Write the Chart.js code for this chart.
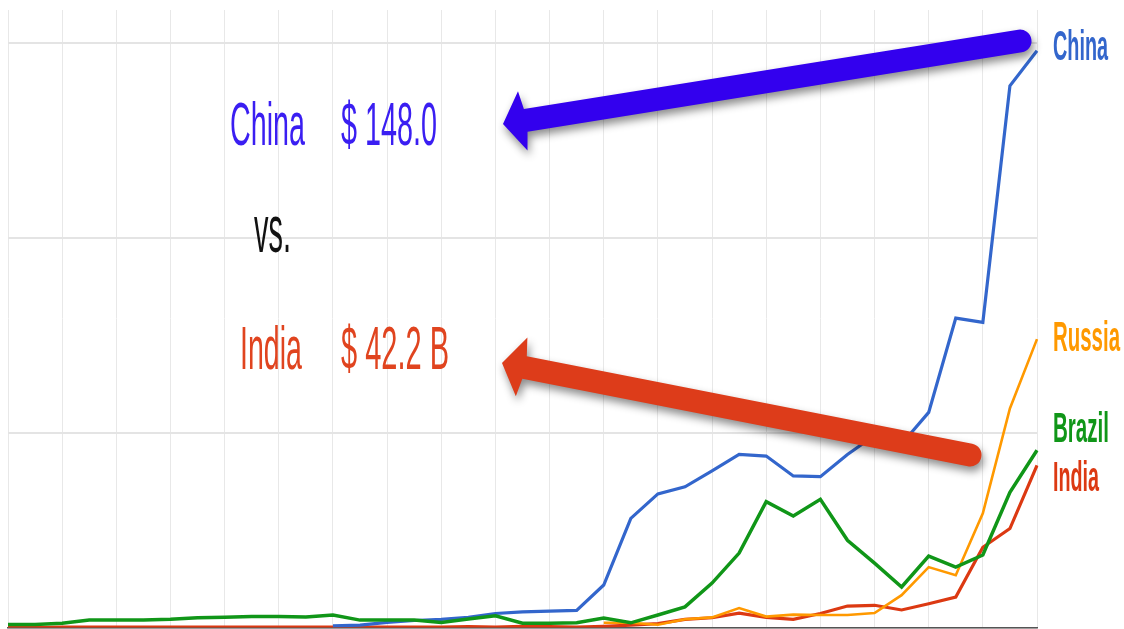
<!DOCTYPE html>
<html>
<head>
<meta charset="utf-8">
<script src="https://cdn.jsdelivr.net/npm/chart.js@4.4.1/dist/chart.umd.min.js"></script>
<style>
  html, body { margin: 0; padding: 0; background: #fff; }
  #wrap { width: 1124px; height: 629px; position: relative; }
</style>
</head>
<body>
<div id="wrap"><canvas id="graph"></canvas></div>
<script>
// FDI net inflows, billions of US$
const years = [];
for (let y = 1970; y <= 2008; y++) years.push(String(y));

const china = [null, null, null, null, null, null, null, null, null, null, null, null,
  0.4, 0.6, 1.3, 1.8, 2.1, 2.6, 3.6, 4.0, 4.2, 4.4, 10.9, 28.0, 34.3, 36.1, 40.2,
  44.4, 44.0, 38.9, 38.7, 44.4, 49.3, 47.1, 55.2, 79.4, 78.3, 139.0, 148.0];

const brazil = [0.8, 0.8, 1.1, 1.9, 1.9, 1.9, 2.1, 2.5, 2.6, 2.8, 2.8, 2.7, 3.2,
  1.9, 1.9, 1.9, 1.3, 2.2, 3.0, 1.1, 1.1, 1.2, 2.4, 1.2, 3.2, 5.3, 11.4, 19.1,
  32.3, 28.6, 32.9, 22.4, 16.5, 10.4, 18.3, 15.5, 18.6, 34.7, 45.5];

const india = [0.0, 0.0, 0.1, 0.1, 0.1, 0.1, 0.1, 0.1, 0.1, 0.1, 0.1, 0.1, 0.1,
  0.1, 0.1, 0.1, 0.1, 0.2, 0.1, 0.3, 0.2, 0.1, 0.3, 0.6, 1.0, 2.1, 2.5, 3.7, 2.6,
  2.1, 3.6, 5.5, 5.7, 4.5, 6.1, 7.8, 20.6, 25.4, 41.6];

const russia = [null, null, null, null, null, null, null, null, null, null, null,
  null, null, null, null, null, null, null, null, null, null, null,
  1.2, 1.2, 0.7, 2.1, 2.6, 5.0, 2.8, 3.3, 3.2, 3.2, 3.7, 8.3, 15.5, 13.4, 29.3,
  56.2, 74.0];

const yTicks = [0, 50, 100, 150];

const seriesNames = ['Brazil', 'China', 'Russia', 'India'];
const seriesData = [brazil, china, russia, india];
const seriesColors = ['#109618', '#3366cc', '#ff9900', '#dc3912'];
const seriesWidths = [3.5, 3.2, 2.6, 3.2];
// label baseline shift from the last point (keeps the names apart)
const labelShift = [-8, 9, 12, 26];
const labelWidths = [56, 55, 67, 46];

const labelFont = "bold 42px 'Liberation Sans Narrow', 'Liberation Sans', Arial, sans-serif";
const noteFont = "62px 'Liberation Sans Narrow', 'Liberation Sans', Arial, sans-serif";

// squeeze a string between left and right, like the narrow type of the picture
function fitText(ctx, str, left, right, baseline, font, color) {
  ctx.save();
  ctx.font = font;
  ctx.fillStyle = color;
  ctx.textAlign = 'left';
  ctx.textBaseline = 'alphabetic';
  const w = ctx.measureText(str).width;
  ctx.translate(left, baseline);
  ctx.scale((right - left) / w, 1);
  ctx.fillText(str, 0, 0);
  ctx.restore();
}

function arrow(ctx, tipX, tipY, endX, endY, color) {
  const ang = Math.atan2(endY - tipY, endX - tipX);
  const len = Math.hypot(endX - tipX, endY - tipY);
  ctx.save();
  ctx.translate(tipX, tipY);
  ctx.rotate(ang);
  ctx.shadowColor = 'rgba(0,0,0,0.45)';
  ctx.shadowBlur = 8;
  ctx.shadowOffsetX = 2;
  ctx.shadowOffsetY = 5;
  ctx.fillStyle = color;
  ctx.beginPath();
  ctx.moveTo(0, 0);
  ctx.lineTo(20, -30);
  ctx.lineTo(23, -11.5);
  ctx.lineTo(len, -11.5);
  ctx.arc(len, 0, 11.5, -Math.PI / 2, Math.PI / 2);
  ctx.lineTo(23, 11.5);
  ctx.lineTo(20, 30);
  ctx.closePath();
  ctx.fill();
  ctx.restore();
}

const overlay = {
  id: 'overlay',
  afterDatasetsDraw(chart) {
    const ctx = chart.ctx;
    const ys = chart.scales.y;
    const left = chart.chartArea.right + 16;
    seriesNames.forEach((name, i) => {
      const d = seriesData[i];
      const y = ys.getPixelForValue(d[d.length - 1]) + labelShift[i];
      fitText(ctx, name, left, left + labelWidths[i], y, labelFont, seriesColors[i]);
    });
  },
  afterDraw(chart) {
    const ctx = chart.ctx;
    fitText(ctx, 'China', 230, 305, 145, noteFont, '#3a1ef2');
    fitText(ctx, '$ 148.0', 341, 437, 145, noteFont, '#3a1ef2');
    fitText(ctx, 'vs.', 254, 291, 252, "66px 'Liberation Sans Narrow', 'Liberation Sans', Arial, sans-serif", '#111');
    fitText(ctx, 'India', 240, 302, 369, noteFont, '#e0441f');
    fitText(ctx, '$ 42.2 B', 341, 449, 369, noteFont, '#e0441f');
    arrow(ctx, 503, 124, 1020, 41, '#3300ee');
    arrow(ctx, 502, 363, 970, 455, '#dd3c1a');
  }
};

const ctx = document.getElementById('graph').getContext('2d');

new Chart(ctx, {
  type: 'line',
  data: {
    labels: years,
    datasets: seriesNames.map((name, i) => ({
      label: name,
      data: seriesData[i],
      borderColor: seriesColors[i],
      borderWidth: seriesWidths[i],
      pointRadius: 0,
      tension: 0,
      fill: false
    }))
  },
  options: {
    responsive: true,
    maintainAspectRatio: false,
    animation: false,
    layout: { padding: { left: 8, right: 87, top: 10, bottom: 1.5 } },
    scales: {
      x: {
        ticks: { display: false, autoSkip: false },
        grid: {
          drawTicks: false,
          color: c => (c.index % 2 === 0 ? '#e8e8e8' : 'rgba(0,0,0,0)'),
          lineWidth: 1
        },
        border: { display: true, color: '#555', width: 1.5 }
      },
      y: {
        min: 0,
        max: 158.47,
        afterBuildTicks: axis => { axis.ticks = yTicks.map(v => ({ value: v })); },
        ticks: { display: false },
        grid: { drawTicks: false, color: '#e4e4e4', lineWidth: 2 },
        border: { display: false }
      }
    },
    plugins: {
      legend: { display: false },
      tooltip: { enabled: false }
    }
  },
  plugins: [overlay]
});
</script>
</body>
</html>
